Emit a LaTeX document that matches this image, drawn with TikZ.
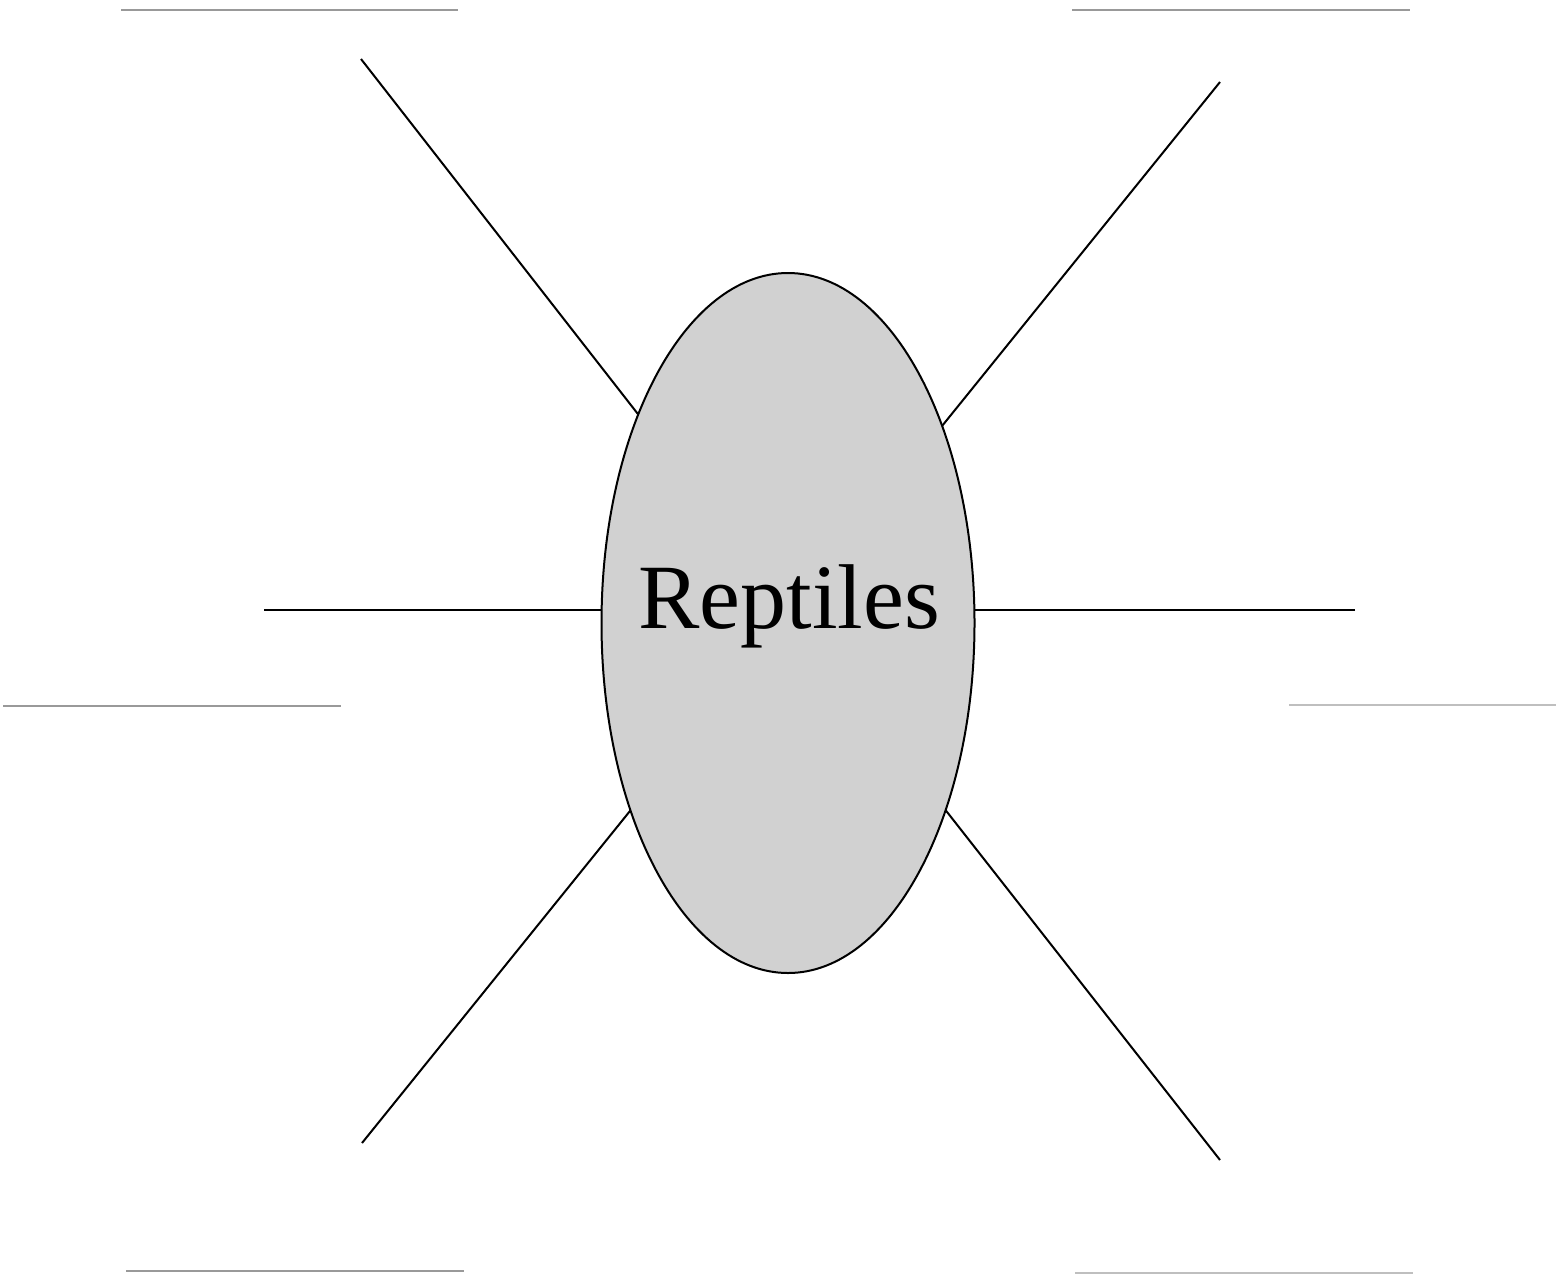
\documentclass[tikz,border=0pt]{standalone}
\usepackage{fontspec}
\setmainfont{Liberation Serif}
\usetikzlibrary{shapes.geometric}
\tikzset{
  spoke/.style={draw=black, line width=1pt},
  blank/.style={draw=black!40, line width=0.8pt},
  blanklight/.style={draw=black!25, line width=0.8pt},
  hub/.style={ellipse, draw=black, line width=1pt, fill=black!18,
              minimum width=186.5pt, minimum height=350pt, inner sep=0pt},
  title/.style={font=\fontsize{46}{50}\selectfont, inner sep=0pt}
}
\begin{document}
\begin{tikzpicture}[x=0.5pt, y=-0.5pt]
\useasboundingbox (0,0) rectangle (1556,1274);
% answer lines
\draw[blank] (121,10) -- (458,10);
\draw[blank] (1072,10) -- (1410,10);
\draw[blank] (3,706) -- (341,706);
\draw[blanklight] (1289,705) -- (1556,705);
\draw[blank] (126,1271) -- (464,1271);
\draw[blanklight] (1075,1273) -- (1413,1273);
% spoke ends
\coordinate (tlo) at (361,59);   \coordinate (tli) at (680,468);
\coordinate (tro) at (1220,82);  \coordinate (tri) at (900,478);
\coordinate (lo)  at (264,610);  \coordinate (li)  at (700,610);
\coordinate (ro)  at (1355,610); \coordinate (ri)  at (880,610);
\coordinate (blo) at (362,1143); \coordinate (bli) at (680,749);
\coordinate (bro) at (1220,1160);\coordinate (bri) at (900,752);
\draw[spoke] (tlo) -- (tli);
\draw[spoke] (tro) -- (tri);
\draw[spoke] (lo) -- (li);
\draw[spoke] (ro) -- (ri);
\draw[spoke] (blo) -- (bli);
\draw[spoke] (bro) -- (bri);
\node[hub] (e) at (788,623) {};
\node[title, anchor=base] (t) at (789,628) {Reptiles};
\end{tikzpicture}
\end{document}
